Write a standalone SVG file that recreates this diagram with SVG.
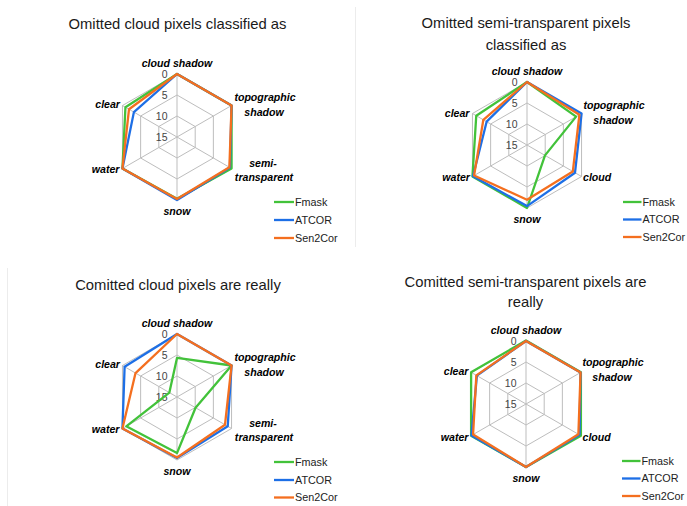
<svg xmlns="http://www.w3.org/2000/svg" xmlns:xlink="http://www.w3.org/1999/xlink" width="687" height="506" viewBox="0 0 687 506">
<style>
.title{font-family:"Liberation Sans",Arial,sans-serif;font-size:14.8px;fill:#1a1a1a;text-anchor:middle}
.ax{font-family:"Liberation Sans",Arial,sans-serif;font-size:10.6px;font-weight:bold;font-style:italic;fill:#000}
.num{font-family:"Liberation Sans",Arial,sans-serif;font-size:10.5px;fill:#444;text-anchor:end}
.leg{font-family:"Liberation Sans",Arial,sans-serif;font-size:10.8px;fill:#222}
.grid{fill:none;stroke:#bdbdbd;stroke-width:1}
.s{fill:none;stroke-width:2.3;stroke-linejoin:round}
.g{stroke:#42c23a}
.b{stroke:#1d6fe6}
.o{stroke:#f46f1f}
.sep{stroke:#ececec;stroke-width:1}
</style>
<defs>
<g id="grid">
<polygon class="grid" points="0,-63 54.56,-31.5 54.56,31.5 0,63 -54.56,31.5 -54.56,-31.5"/>
<polygon class="grid" points="0,-42 36.37,-21 36.37,21 0,42 -36.37,21 -36.37,-21"/>
<polygon class="grid" points="0,-21 18.19,-10.5 18.19,10.5 0,21 -18.19,10.5 -18.19,-10.5"/>
<path class="grid" d="M0,0V-63M0,0L54.56,-31.5M0,0L54.56,31.5M0,0V63M0,0L-54.56,31.5M0,0L-54.56,-31.5"/>
<text class="num" x="-9.5" y="-59.2">0</text>
<text class="num" x="-9.5" y="-38.2">5</text>
<text class="num" x="-9.5" y="-17.5">10</text>
<text class="num" x="-9.5" y="3.8">15</text>
</g>
</defs>
<rect width="687" height="506" fill="#fff"/>
<line class="sep" x1="355.5" y1="7" x2="355.5" y2="247"/>
<line class="sep" x1="7.5" y1="268" x2="7.5" y2="506"/>

<g id="panel1">
<text class="title" x="177.5" y="29">Omitted cloud pixels classified as</text>
<g transform="translate(177,137)">
<use xlink:href="#grid"/>
<g id="series1">
<polygon class="s g" points="0,-63 54.56,-31.5 54.56,31.5 0,61.74 -54.56,31.5 -51.56,-29.77"/>
<polygon class="s b" points="0,-63 54.56,-31.5 52.92,30.56 0,63 -54.56,31.5 -43.10,-24.89"/>
<polygon class="s o" points="0,-63 54.56,-31.5 52.38,30.24 0,62.06 -54.56,31.5 -48.01,-27.72"/>
</g>
<text class="ax" x="0" y="-70.5" text-anchor="middle">cloud shadow</text>
<text class="ax" x="88" y="-36.5" text-anchor="middle">topographic</text>
<text class="ax" x="87" y="-21.5" text-anchor="middle">shadow</text>
<text class="ax" x="86" y="29.5" text-anchor="middle">semi-</text>
<text class="ax" x="87" y="44" text-anchor="middle">transparent</text>
<text class="ax" x="0" y="77.5" text-anchor="middle">snow</text>
<text class="ax" x="-57.5" y="36" text-anchor="end">water</text>
<text class="ax" x="-57" y="-29" text-anchor="end">clear</text>
<g id="legend1">
<line class="s g" x1="97" y1="65" x2="117" y2="65"/><text class="leg" x="118" y="68.8">Fmask</text>
<line class="s b" x1="97" y1="83" x2="117" y2="83"/><text class="leg" x="118" y="86.8">ATCOR</text>
<line class="s o" x1="97" y1="101" x2="117" y2="101"/><text class="leg" x="118" y="104.8">Sen2Cor</text>
</g>
</g>
</g>

<g id="panel2">
<text class="title" x="526" y="27.5">Omitted semi-transparent pixels</text>
<text class="title" x="526" y="49.5">classified as</text>
<g transform="translate(527,145)">
<use xlink:href="#grid"/>
<g id="series2">
<polygon class="s g" points="0,-63 49.10,-28.35 18.00,10.40 0,63 -54.56,31.5 -50.74,-29.30"/>
<polygon class="s b" points="0,-63 54.56,-31.5 48.01,27.72 0,61.11 -54.01,31.19 -40.37,-23.31"/>
<polygon class="s o" points="0,-63 52.38,-30.24 45.83,26.46 0,54.81 -52.92,30.56 -43.65,-25.2"/>
</g>
<text class="ax" x="0" y="-70.5" text-anchor="middle">cloud shadow</text>
<text class="ax" x="87" y="-36.5" text-anchor="middle">topographic</text>
<text class="ax" x="86" y="-21.5" text-anchor="middle">shadow</text>
<text class="ax" x="56" y="36" text-anchor="start">cloud</text>
<text class="ax" x="0" y="78" text-anchor="middle">snow</text>
<text class="ax" x="-57" y="36" text-anchor="end">water</text>
<text class="ax" x="-57.5" y="-28.5" text-anchor="end">clear</text>
<g id="legend2">
<line class="s g" x1="96" y1="57" x2="114.5" y2="57"/><text class="leg" x="115.5" y="60.8">Fmask</text>
<line class="s b" x1="96" y1="74.5" x2="114.5" y2="74.5"/><text class="leg" x="115.5" y="78.3">ATCOR</text>
<line class="s o" x1="96" y1="92" x2="114.5" y2="92"/><text class="leg" x="115.5" y="95.8">Sen2Cor</text>
</g>
</g>
</g>

<g id="panel3">
<text class="title" x="178" y="290">Comitted cloud pixels are really</text>
<g transform="translate(177,397)">
<use xlink:href="#grid"/>
<g id="series3">
<polygon class="s g" points="0,-39.06 54.56,-31.5 18.55,10.71 0,56.07 -50.74,29.30 -7.64,-4.41"/>
<polygon class="s b" points="0,-63 54.56,-31.5 50.74,29.30 0,61.11 -54.56,31.5 -52.38,-30.24"/>
<polygon class="s o" points="0,-63 54.56,-31.5 48.01,27.72 0,60.48 -54.56,31.5 -41.47,-23.94"/>
</g>
<text class="ax" x="0" y="-70.5" text-anchor="middle">cloud shadow</text>
<text class="ax" x="88" y="-36.5" text-anchor="middle">topographic</text>
<text class="ax" x="87" y="-21.5" text-anchor="middle">shadow</text>
<text class="ax" x="86" y="29.5" text-anchor="middle">semi-</text>
<text class="ax" x="87" y="44" text-anchor="middle">transparent</text>
<text class="ax" x="0" y="77.5" text-anchor="middle">snow</text>
<text class="ax" x="-57.5" y="36" text-anchor="end">water</text>
<text class="ax" x="-57" y="-29" text-anchor="end">clear</text>
<g id="legend3">
<line class="s g" x1="97" y1="65" x2="117" y2="65"/><text class="leg" x="118" y="68.8">Fmask</text>
<line class="s b" x1="97" y1="83" x2="117" y2="83"/><text class="leg" x="118" y="86.8">ATCOR</text>
<line class="s o" x1="97" y1="100.5" x2="117" y2="100.5"/><text class="leg" x="118" y="104.3">Sen2Cor</text>
</g>
</g>
</g>

<g id="panel4">
<text class="title" x="525.5" y="286.5">Comitted semi-transparent pixels are</text>
<text class="title" x="525.5" y="306.5">really</text>
<g transform="translate(526,404)">
<use xlink:href="#grid"/>
<g id="series4">
<polygon class="s g" points="0,-63.5 54.9,-31.7 54.9,31.7 0,63 -54.9,31.7 -54.9,-31.7"/>
<polygon class="s b" points="0,-63 54.56,-31.5 53.47,30.87 0,63 -54.56,31.5 -49.10,-28.35"/>
<polygon class="s o" points="0,-63 54.56,-31.5 52.38,30.24 0,63 -52.92,30.56 -49.65,-28.67"/>
</g>
<text class="ax" x="0" y="-70" text-anchor="middle">cloud shadow</text>
<text class="ax" x="87" y="-38" text-anchor="middle">topographic</text>
<text class="ax" x="86" y="-23" text-anchor="middle">shadow</text>
<text class="ax" x="56.5" y="36.5" text-anchor="start">cloud</text>
<text class="ax" x="0" y="78" text-anchor="middle">snow</text>
<text class="ax" x="-57.5" y="36.5" text-anchor="end">water</text>
<text class="ax" x="-57.5" y="-29" text-anchor="end">clear</text>
<g id="legend4">
<line class="s g" x1="96" y1="57" x2="114.5" y2="57"/><text class="leg" x="115.5" y="60.8">Fmask</text>
<line class="s b" x1="96" y1="74.5" x2="114.5" y2="74.5"/><text class="leg" x="115.5" y="78.3">ATCOR</text>
<line class="s o" x1="96" y1="92" x2="114.5" y2="92"/><text class="leg" x="115.5" y="95.8">Sen2Cor</text>
</g>
</g>
</g>
</svg>
